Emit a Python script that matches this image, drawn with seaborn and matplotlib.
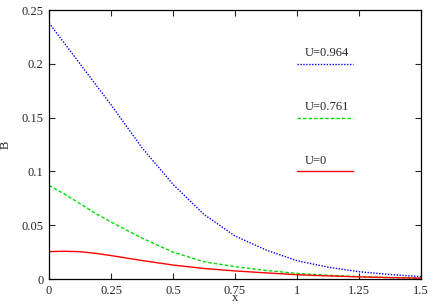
import pandas as pd
import matplotlib.pyplot as plt
import seaborn as sns

# valori
x_vals = [0, 0.0625, 0.125, 0.1875, 0.25, 0.375, 0.5, 0.625, 0.75, 0.875, 1.0, 1.125, 1.25, 1.375, 1.5]
b_u0964 = [0.238, 0.219, 0.200, 0.181, 0.162, 0.122, 0.088, 0.060, 0.040, 0.027, 0.017, 0.011, 0.0068, 0.0042, 0.0022]
b_u0761 = [0.087, 0.079, 0.070, 0.061, 0.053, 0.038, 0.025, 0.016, 0.0115, 0.008, 0.0052, 0.0035, 0.0022, 0.0014, 0.0009]
b_u0 = [0.0255, 0.0258, 0.0254, 0.0239, 0.0218, 0.0172, 0.0130, 0.0098, 0.0075, 0.0057, 0.0040, 0.0029, 0.0020, 0.0013, 0.0008]
labels = ['U=0.964', 'U=0.761', 'U=0']
x_ticks = [0, 0.25, 0.5, 0.75, 1, 1.25, 1.5]
x_ticklabels = ['0', '0.25', '0.5', '0.75', '1', '1.25', '1.5']
y_ticks = [0, 0.05, 0.1, 0.15, 0.2, 0.25]
y_ticklabels = ['0', '0.05', '0.1', '0.15', '0.2', '0.25']

df = pd.DataFrame({
    'x': x_vals * 3,
    'B': b_u0964 + b_u0761 + b_u0,
    'U': [labels[0]] * len(x_vals) + [labels[1]] * len(x_vals) + [labels[2]] * len(x_vals),
})

sns.set_theme(style='ticks')
plt.rcParams['font.family'] = ['Liberation Serif', 'DejaVu Serif']

stiluri = {
    'U=0.964': dict(color='#0000ff', ls=(0, (1, 1.1))),
    'U=0.761': dict(color='#00e000', ls=(0, (2.5, 1.5))),
    'U=0': dict(color='#ff0000', ls='-'),
}
leg_y = {'U=0.964': 0.8, 'U=0.761': 0.6, 'U=0': 0.4}

fig = plt.figure(figsize=(4.36, 3.05), dpi=100)
ax = fig.add_axes([0.1124, 0.0852, 0.8532, 0.8818])

for lab in labels:
    sub = df[df['U'] == lab]
    sns.lineplot(data=sub, x='x', y='B', ax=ax, color=stiluri[lab]['color'],
                 linestyle=stiluri[lab]['ls'], linewidth=1.0, legend=False)
    # cheia legendei, ca in gnuplot: text deasupra liniei
    ax.plot([0.667, 0.817], [leg_y[lab], leg_y[lab]], transform=ax.transAxes,
            color=stiluri[lab]['color'], linestyle=stiluri[lab]['ls'], linewidth=1.0)
    ax.text(0.688, leg_y[lab] + 0.04, lab, transform=ax.transAxes,
            fontsize=9, ha='left', va='center')

ax.set_xlim(0, 1.5)
ax.set_ylim(0, 0.25)
ax.set_xticks(x_ticks)
ax.set_xticklabels(x_ticklabels)
ax.set_yticks(y_ticks)
ax.set_yticklabels(y_ticklabels)
ax.tick_params(direction='in', length=4, width=0.8, labelsize=9, top=True, right=True, pad=4)
for s in ax.spines.values():
    s.set_linewidth(0.9)
    s.set_color('black')
ax.set_xlabel('x', fontsize=9)
ax.set_ylabel('B', fontsize=9)
ax.xaxis.set_label_coords(0.5, -0.05)
ax.yaxis.set_label_coords(-0.1, 0.5)

plt.savefig('out.png', dpi=100)
plt.close()
